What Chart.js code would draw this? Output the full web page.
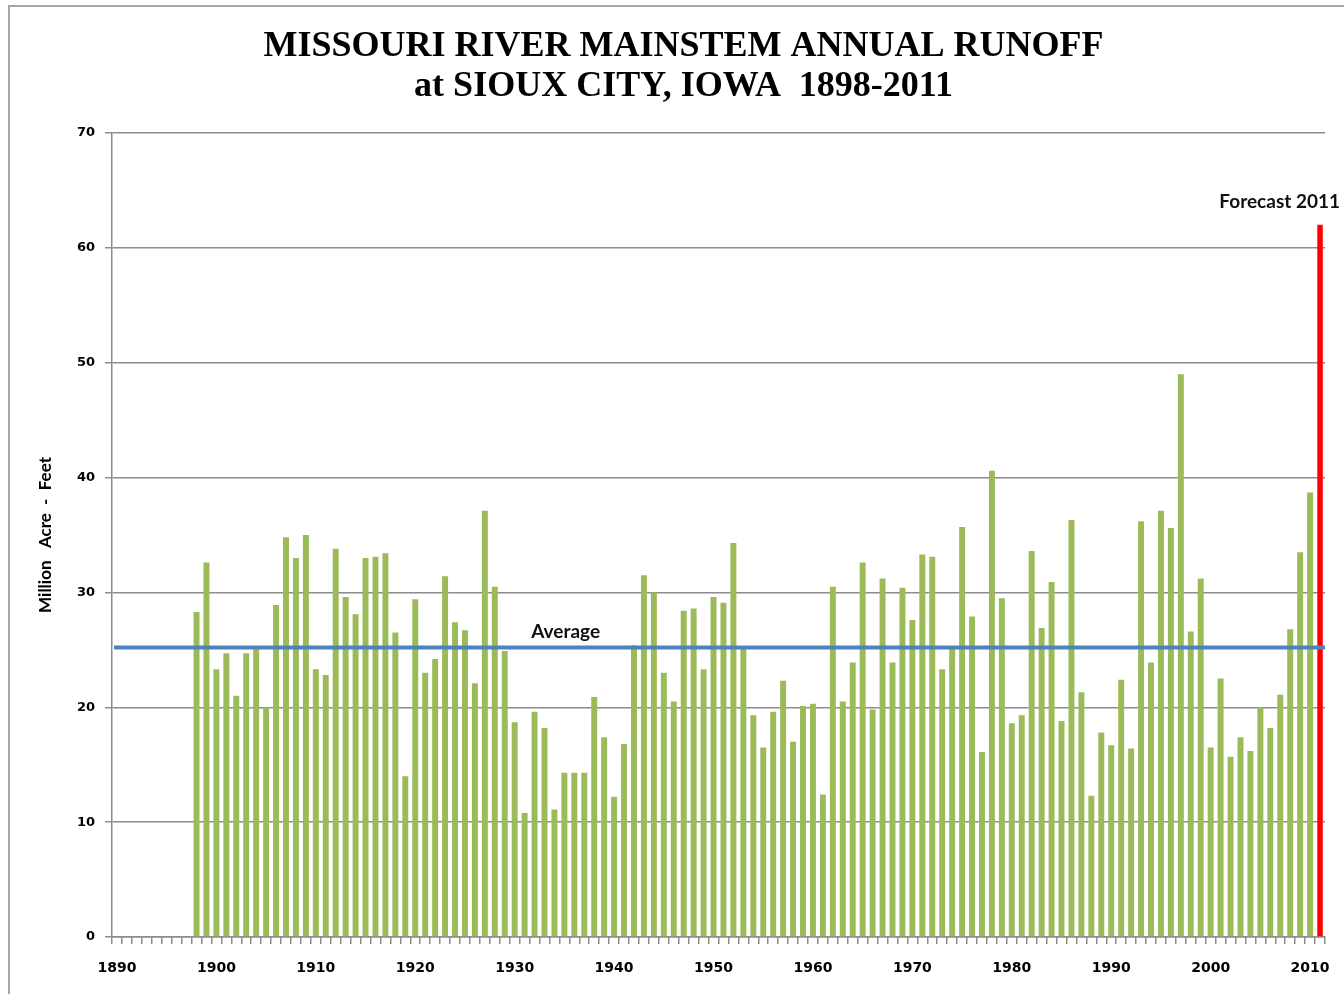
<!DOCTYPE html>
<html>
<head>
<meta charset="utf-8">
<script src="https://cdn.jsdelivr.net/npm/chart.js@4.4.1/dist/chart.umd.min.js"></script>
<style>
    html, body { margin: 0; padding: 0; background: #fff; overflow: hidden; }
    #frame {
        position: absolute; left: 8px; top: 5px; width: 1400px; height: 1100px;
        border-top: 2px solid #a6a6a6; border-left: 2px solid #a6a6a6;
    }
    #wrap { position: absolute; left: 0; top: 0; width: 1344px; height: 994px; }
</style>
</head>
<body>
<div id="frame"></div>
<div id="wrap"><canvas id="runoffChart"></canvas></div>
<script>
// Axis range (one category per year)
const firstYear = 1890;
const lastYear = 2011;

// Annual runoff, million acre-feet, 1898-2010
const runoffStartYear = 1898;
const runoff = [
    28.3, 32.6,
    23.3, 24.7, 21.0, 24.7, 25.1, 20.0, 28.9, 34.8, 33.0, 35.0,   // 1900s
    23.3, 22.8, 33.8, 29.6, 28.1, 33.0, 33.1, 33.4, 26.5, 14.0,   // 1910s
    29.4, 23.0, 24.2, 31.4, 27.4, 26.7, 22.1, 37.1, 30.5, 24.9,   // 1920s
    18.7, 10.8, 19.6, 18.2, 11.1, 14.3, 14.3, 14.3, 20.9, 17.4,   // 1930s
    12.2, 16.8, 25.4, 31.5, 30.0, 23.0, 20.5, 28.4, 28.6, 23.3,   // 1940s
    29.6, 29.1, 34.3, 25.2, 19.3, 16.5, 19.6, 22.3, 17.0, 20.1,   // 1950s
    20.3, 12.4, 30.5, 20.5, 23.9, 32.6, 19.8, 31.2, 23.9, 30.4,   // 1960s
    27.6, 33.3, 33.1, 23.3, 25.3, 35.7, 27.9, 16.1, 40.6, 29.5,   // 1970s
    18.6, 19.3, 33.6, 26.9, 30.9, 18.8, 36.3, 21.3, 12.3, 17.8,   // 1980s
    16.7, 22.4, 16.4, 36.2, 23.9, 37.1, 35.6, 49.0, 26.6, 31.2,   // 1990s
    16.5, 22.5, 15.7, 17.4, 16.2, 20.0, 18.2, 21.1, 26.8, 33.5,   // 2000s
    38.7                                                          // 2010
];

// 2011 forecast and long-term average
const forecastYear = 2011;
const forecastValue = 62;
const averageRunoff = 25.2;

const yMin = 0;
const yMax = 70;
const yStep = 10;

const years = [];
for (let y = firstYear; y <= lastYear; y++) years.push(y);

const runoffData = years.map(y => {
    const i = y - runoffStartYear;
    return (i >= 0 && i < runoff.length) ? runoff[i] : null;
});
const forecastData = years.map(y => y === forecastYear ? forecastValue : null);

// average line + text labels
const overlayPlugin = {
    id: 'overlay',
    afterDatasetsDraw(chart) {
        const { ctx, chartArea, scales } = chart;
        const yAvg = scales.y.getPixelForValue(averageRunoff);
        ctx.save();
        ctx.strokeStyle = '#4f81bd';
        ctx.lineWidth = 4;
        ctx.beginPath();
        ctx.moveTo(chartArea.left + 2, yAvg);
        ctx.lineTo(chartArea.right, yAvg);
        ctx.stroke();

        ctx.fillStyle = '#111';
        ctx.font = 'bold 19px Lato';
        ctx.textBaseline = 'middle';
        ctx.textAlign = 'center';
        ctx.fillText('Average', chartArea.left + (chartArea.right - chartArea.left) * 0.374, yAvg - 16);

        const xF = scales.x.getPixelForValue(years.indexOf(forecastYear));
        const yF = scales.y.getPixelForValue(forecastValue);
        ctx.textAlign = 'right';
        ctx.fillText('Forecast 2011', xF + 20, yF - 23);
        ctx.restore();
    }
};

const ctx = document.getElementById('runoffChart');
new Chart(ctx, {
    type: 'bar',
    data: {
        labels: years,
        datasets: [{
            label: 'Annual Runoff',
            data: runoffData,
            backgroundColor: '#9bbb59',
            barPercentage: 0.6,
            categoryPercentage: 1,
            grouped: false
        }, {
            label: 'Forecast 2011',
            data: forecastData,
            backgroundColor: '#ff0000',
            barPercentage: 0.55,
            categoryPercentage: 1,
            grouped: false
        }]
    },
    options: {
        responsive: true,
        maintainAspectRatio: false,
        animation: false,
        layout: { padding: { left: 42, right: 19, top: 0, bottom: 0 } },
        plugins: {
            legend: { display: false },
            tooltip: { enabled: false },
            title: {
                display: true,
                text: ['MISSOURI RIVER MAINSTEM ANNUAL RUNOFF', 'at SIOUX CITY, IOWA  1898-2011'],
                color: '#000',
                font: { family: 'Liberation Serif', size: 36, weight: 'bold', lineHeight: 1.11 },
                padding: { top: 27, bottom: 26 }
            }
        },
        scales: {
            x: {
                type: 'category',
                offset: true,
                grid: {
                    display: true,
                    drawOnChartArea: false,
                    offset: true,
                    tickLength: 7,
                    color: '#8c8c8c',
                    lineWidth: 1.5
                },
                border: { color: '#8c8c8c', width: 1.5 },
                ticks: {
                    autoSkip: false,
                    maxRotation: 0,
                    minRotation: 0,
                    padding: 16,
                    color: '#000',
                    font: { family: 'DejaVu Sans', size: 14, weight: 'bold' },
                    callback: (v, i) => years[i] % 10 === 0 ? String(years[i]) : ''
                },
                afterFit: (s) => { s.height = 57; }
            },
            y: {
                min: yMin,
                max: yMax,
                grid: {
                    color: '#8c8c8c',
                    lineWidth: 1.5,
                    tickLength: 7
                },
                border: { color: '#8c8c8c', width: 1.5 },
                ticks: {
                    stepSize: yStep,
                    padding: 10,
                    color: '#000',
                    font: { family: 'DejaVu Sans', size: 13, weight: 'bold' }
                },
                title: {
                    display: true,
                    text: 'Million   Acre  -  Feet',
                    color: '#000',
                    font: { family: 'Lato', size: 17, weight: 'bold' },
                    padding: { top: -7, bottom: 0 }
                },
                afterFit: (s) => { s.width = 70; }
            }
        }
    },
    plugins: [overlayPlugin]
});
</script>
</body>
</html>
